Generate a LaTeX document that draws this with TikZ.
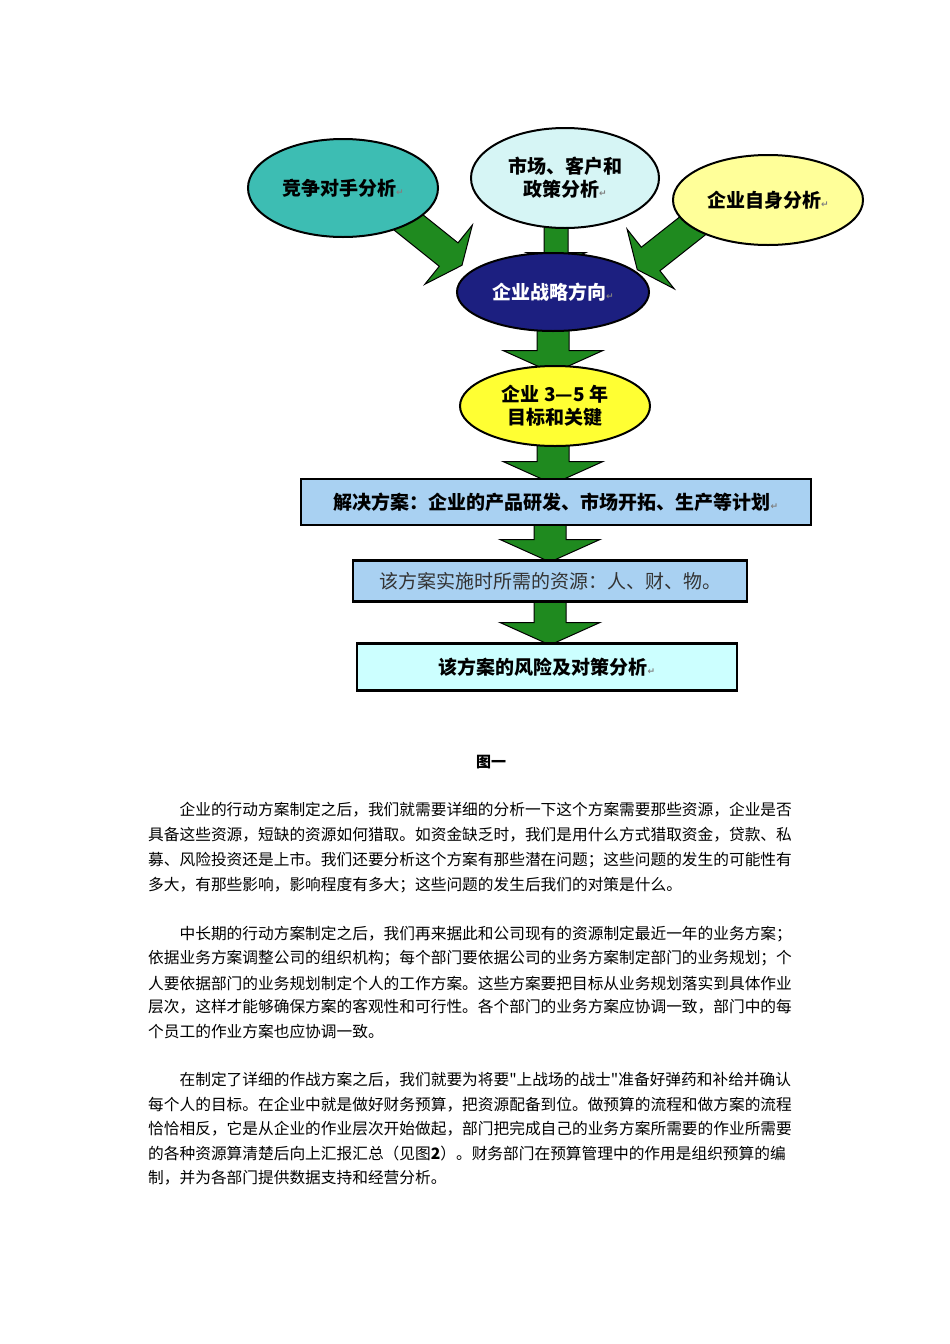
\documentclass[tikz,border=0pt]{standalone}
\usepackage{fontspec}
\setmainfont{Noto Sans CJK SC}
\newfontfamily\plainf[Ligatures=ResetAll]{Noto Sans CJK SC}
\newfontfamily\symf{DejaVu Sans}
\usetikzlibrary{backgrounds,shapes.geometric}
\definecolor{teal1}{HTML}{3DBDB3}
\definecolor{cyan1}{HTML}{D6F5F5}
\definecolor{ylw1}{HTML}{FFFF99}
\definecolor{navy1}{HTML}{1C1F80}
\definecolor{ylw2}{HTML}{FFFF33}
\definecolor{blu1}{HTML}{A9D1F2}
\definecolor{cyan2}{HTML}{CCFFFF}
\definecolor{grn1}{HTML}{1F8A1F}
\newcommand\rmark{{\symf\fontsize{9}{9}\selectfont\color{gray}↵}}
\newcommand\qt{{\plainf"}}
\newcommand\barrow[6]{%
\fill[grn1,draw=black,line width=1pt,shift={(#1,#2)},rotate=#3]
 (0,-#5)--(#4-#6*0.45,-#5)--(#4-#6*0.45,-#6)--(#4,0)--(#4-#6*0.45,#6)--(#4-#6*0.45,#5)--(0,#5)--cycle;}
\begin{document}
\begin{tikzpicture}[x=1pt,y=-1pt,
 ell/.style={ellipse,draw=black,line width=2pt,inner sep=0pt,font=\fontsize{19}{23}\selectfont\bfseries,align=center},
 bx/.style={rectangle,draw=black,line width=2.5pt,inner sep=0pt,font=\fontsize{19}{23}\selectfont\bfseries},
 para/.style={anchor=west,inner sep=0pt,font=\fontsize{15.7}{16}\selectfont}]
\useasboundingbox (0,0) rectangle (950,1344);
\node[ell,fill=teal1,minimum width=190,minimum height=98] (e1) at (343,188) {竞争对手分析\rmark};
\node[ell,fill=cyan1,minimum width=188,minimum height=100] (e2) at (565,178) {市场、客户和\\政策分析\rmark};
\node[ell,fill=ylw1,minimum width=190,minimum height=90] (e3) at (768,200) {企业自身分析\rmark};
\node[ell,fill=navy1,text=white,minimum width=192,minimum height=78] (e4) at (553,292) {企业战略方向\rmark};
\node[ell,fill=ylw2,minimum width=190,minimum height=80] (e5) at (555,406) {企业 3—5 年\\目标和关键};
\node[bx,fill=blu1,minimum width=510,minimum height=46] (b1) at (556,502) {解决方案：企业的产品研发、市场开拓、生产等计划\rmark};
\node[bx,fill=blu1,minimum width=394,minimum height=41,font=\fontsize{19}{23}\selectfont,text=black!80] (b2) at (550,581) {该方案实施时所需的资源：人、财、物。};
\node[bx,fill=cyan2,minimum width=380,minimum height=47] (b3) at (547,667) {该方案的风险及对策分析\rmark};
\begin{scope}[on background layer]
\fill[white] (0,0) rectangle (950,1344);
\barrow{398}{214}{-38.7}{82}{15}{38}
\barrow{700}{220}{-141.7}{80}{15}{38}
\barrow{556}{222}{-90}{44}{12}{30}
\barrow{553}{325}{-90}{48}{16}{50}
\barrow{553}{440}{-90}{44}{16}{50}
\barrow{550}{520}{-90}{42}{16}{50}
\barrow{550}{598}{-90}{47}{16}{50}
\end{scope}
\node[inner sep=0pt,font=\fontsize{15}{15}\selectfont\bfseries] (cap) at (491,762) {图一};
\node[para] (p1) at (148,810) {\hspace{2em}企业的行动方案制定之后，我们就需要详细的分析一下这个方案需要那些资源，企业是否};
\node[para] (p2) at (148,835) {具备这些资源，短缺的资源如何猎取。如资金缺乏时，我们是用什么方式猎取资金，贷款、私};
\node[para] (p3) at (148,860) {募、风险投资还是上市。我们还要分析这个方案有那些潜在问题；这些问题的发生的可能性有};
\node[para] (p4) at (148,885) {多大，有那些影响，影响程度有多大；这些问题的发生后我们的对策是什么。};
\node[para] (q1) at (148,934) {\hspace{2em}中长期的行动方案制定之后，我们再来据此和公司现有的资源制定最近一年的业务方案；};
\node[para] (q2) at (148,958) {依据业务方案调整公司的组织机构；每个部门要依据公司的业务方案制定部门的业务规划；个};
\node[para] (q3) at (148,983) {人要依据部门的业务规划制定个人的工作方案。这些方案要把目标从业务规划落实到具体作业};
\node[para] (q4) at (148,1007) {层次，这样才能够确保方案的客观性和可行性。各个部门的业务方案应协调一致，部门中的每};
\node[para] (q5) at (148,1032) {个员工的作业方案也应协调一致。};
\node[para] (r1) at (148,1080) {\hspace{2em}在制定了详细的作战方案之后，我们就要为将要\qt 上战场的战士\qt 准备好弹药和补给并确认};
\node[para] (r2) at (148,1105) {每个人的目标。在企业中就是做好财务预算，把资源配备到位。做预算的流程和做方案的流程};
\node[para] (r3) at (148,1129) {恰恰相反，它是从企业的作业层次开始做起，部门把完成自己的业务方案所需要的作业所需要};
\node[para] (r4) at (148,1154) {的各种资源算清楚后向上汇报汇总（见图\textbf{2}）。财务部门在预算管理中的作用是组织预算的编};
\node[para] (r5) at (148,1178) {制，并为各部门提供数据支持和经营分析。};
\end{tikzpicture}
\end{document}
